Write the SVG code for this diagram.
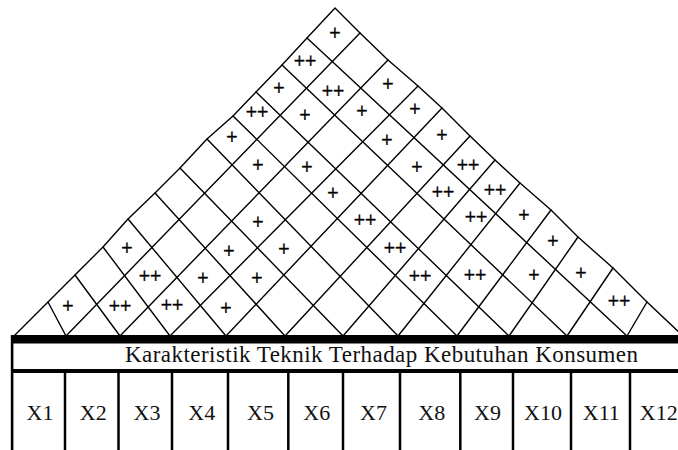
<svg xmlns="http://www.w3.org/2000/svg" width="678" height="450" viewBox="0 0 678 450">
<style>
.g{stroke:#000;stroke-width:1.4;fill:none;stroke-linecap:round;stroke-linejoin:round}
.m{font-family:"Liberation Serif","Times New Roman",serif;font-size:20px;fill:#000;stroke:#000;stroke-width:0.5;text-anchor:middle}
.h{font-family:"Liberation Serif","Times New Roman",serif;font-size:23px;fill:#111}
.x{font-family:"Liberation Serif","Times New Roman",serif;font-size:22px;fill:#111;text-anchor:middle}
.c{stroke:#000;stroke-width:2.5}
</style>
<rect width="678" height="450" fill="#fff"/>
<g id="roof" class="g">
<polyline points="14,336 48,302 75,275 103,247 128,219 155,193 180,168 207,139 233,116 256,92 282,65 307,38 335,8 360,33 388,60 418,86 442,108 470,136 495,160 520,183 551,210 578,237 613,268 647,302 684,337"/>
<g id="connectors">
<line x1="66" y1="336" x2="48" y2="302"/>
<line x1="120" y1="336" x2="75" y2="275"/>
<line x1="170" y1="336" x2="103" y2="247"/>
<line x1="226" y1="336" x2="128" y2="219"/>
<line x1="285" y1="336" x2="155" y2="193"/>
<line x1="343" y1="336" x2="180" y2="168"/>
<line x1="398" y1="336" x2="207" y2="139"/>
<line x1="457" y1="336" x2="233" y2="116"/>
<line x1="509" y1="336" x2="256" y2="92"/>
<line x1="567" y1="336" x2="282" y2="65"/>
<line x1="627" y1="336" x2="307" y2="38"/>
<line x1="66" y1="336" x2="360" y2="33"/>
<line x1="120" y1="336" x2="388" y2="60"/>
<line x1="170" y1="336" x2="418" y2="86"/>
<line x1="226" y1="336" x2="442" y2="108"/>
<line x1="285" y1="336" x2="470" y2="136"/>
<line x1="343" y1="336" x2="495" y2="160"/>
<line x1="398" y1="336" x2="520" y2="183"/>
<line x1="457" y1="336" x2="551" y2="210"/>
<line x1="509" y1="336" x2="578" y2="237"/>
<line x1="567" y1="336" x2="613" y2="268"/>
<line x1="627" y1="336" x2="647" y2="302"/>
</g>
</g>
<g id="marks" class="m" transform="translate(0,0.6)">
<text x="335" y="39.5">+</text>
<text x="305" y="67.5">++</text>
<text x="279" y="94.5">+</text>
<text x="333" y="97.5">++</text>
<text x="388" y="90.5">+</text>
<text x="257" y="118.5">++</text>
<text x="305" y="121.5">+</text>
<text x="362" y="117.5">+</text>
<text x="415" y="115.5">+</text>
<text x="232" y="143.5">+</text>
<text x="387" y="146.5">+</text>
<text x="442" y="141.5">+</text>
<text x="258" y="171.5">+</text>
<text x="307" y="173.5">+</text>
<text x="417" y="173.5">+</text>
<text x="468" y="171.5">++</text>
<text x="333" y="199.5">+</text>
<text x="443" y="198.5">++</text>
<text x="495" y="196.5">++</text>
<text x="258" y="228.5">+</text>
<text x="365" y="226.5">++</text>
<text x="476" y="223.5">++</text>
<text x="524" y="221.5">+</text>
<text x="127" y="254.5">+</text>
<text x="229" y="257.5">+</text>
<text x="284" y="255.5">+</text>
<text x="395" y="254.5">++</text>
<text x="553" y="247.5">+</text>
<text x="150" y="282.5">++</text>
<text x="203" y="284.5">+</text>
<text x="257" y="284.5">+</text>
<text x="420" y="282.5">++</text>
<text x="475" y="281.5">++</text>
<text x="534" y="281.5">+</text>
<text x="581" y="279.5">+</text>
<text x="68" y="312.5">+</text>
<text x="120" y="312.5">++</text>
<text x="172" y="311.5">++</text>
<text x="226" y="314.5">+</text>
<text x="619" y="307.5">++</text>
</g>
<g id="table">
<rect x="11" y="335" width="680" height="8.5" fill="#000"/>
<rect x="10.8" y="335" width="2.6" height="115" fill="#000"/>
<rect x="11" y="369" width="680" height="4" fill="#000"/>
<text class="h" x="125" y="362" textLength="513" lengthAdjust="spacing">Karakteristik Teknik Terhadap Kebutuhan Konsumen</text>
<g id="columns" class="c">
<line x1="65" y1="372" x2="65" y2="450"/>
<line x1="118.5" y1="372" x2="118.5" y2="450"/>
<line x1="172" y1="372" x2="172" y2="450"/>
<line x1="228" y1="372" x2="228" y2="450"/>
<line x1="288.3" y1="372" x2="288.3" y2="450"/>
<line x1="343" y1="372" x2="343" y2="450"/>
<line x1="400" y1="372" x2="400" y2="450"/>
<line x1="460.3" y1="372" x2="460.3" y2="450"/>
<line x1="513" y1="372" x2="513" y2="450"/>
<line x1="571" y1="372" x2="571" y2="450"/>
<line x1="630" y1="372" x2="630" y2="450"/>
</g>
<g id="labels" class="x">
<text x="40" y="419.5">X1</text>
<text x="93.3" y="419.5">X2</text>
<text x="147" y="419.5">X3</text>
<text x="201.7" y="419.5">X4</text>
<text x="260.5" y="419.5">X5</text>
<text x="316.7" y="419.5">X6</text>
<text x="373.5" y="419.5">X7</text>
<text x="431.8" y="419.5">X8</text>
<text x="487.5" y="419.5">X9</text>
<text x="543" y="419.5">X10</text>
<text x="601.3" y="419.5">X11</text>
<text x="658.7" y="419.5">X12</text>
</g>
</g>
</svg>
